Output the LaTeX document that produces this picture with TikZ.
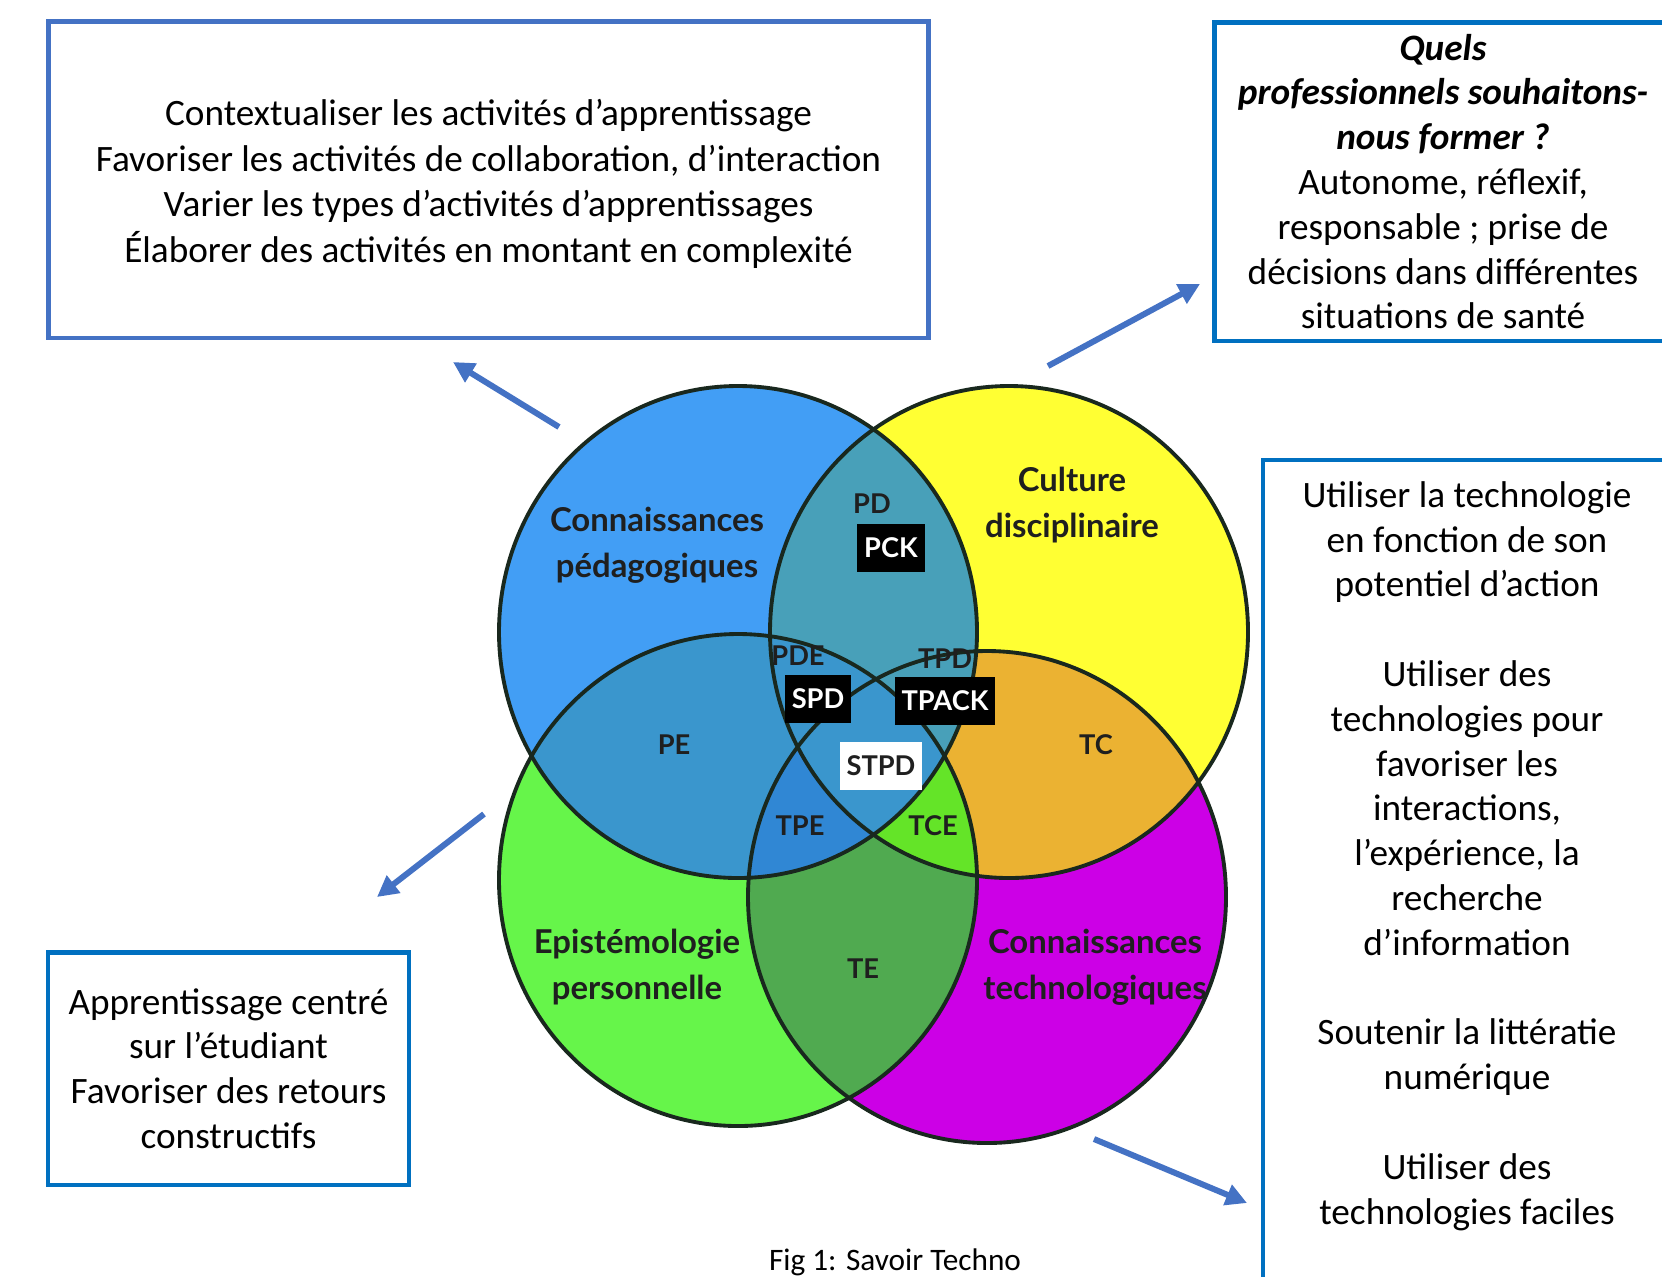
\documentclass[tikz,border=0pt]{standalone}
\usepackage{fontspec}
\setmainfont{Carlito}
\newfontfamily\gill{Lato}
\usetikzlibrary{arrows.meta}

\definecolor{boxblue}{RGB}{0,112,192}
\definecolor{arrowblue}{RGB}{68,114,196}
\definecolor{pedaC}{RGB}{66,158,245}
\definecolor{cultC}{RGB}{255,255,51}
\definecolor{episC}{RGB}{102,245,74}
\definecolor{techC}{RGB}{204,0,230}
\definecolor{pdC}{RGB}{72,160,185}
\definecolor{peC}{RGB}{58,150,205}
\definecolor{tpeC}{RGB}{48,135,212}
\definecolor{tcC}{RGB}{235,178,50}
\definecolor{teC}{RGB}{80,170,80}
\definecolor{tceC}{RGB}{100,228,40}
\definecolor{rimC}{RGB}{25,40,30}

\begin{document}
\begin{tikzpicture}[x=0.02cm, y=-0.02cm]
\tikzstyle{every node} = [align=center, inner sep=0pt, outer sep=0pt, font=\fontsize{21.2}{25.5}\selectfont]
\tikzstyle{venn} = [x radius=239, y radius=246]
\tikzstyle{boxframe} = [draw=boxblue, line width=2.8pt]
\tikzstyle{bigname} = [font=\gill\bfseries\fontsize{18.7}{26}\selectfont, text=black!88]
\tikzstyle{smalltag} = [font=\gill\bfseries\fontsize{15.5}{18}\selectfont, text=black!88]
\tikzstyle{tagbox} = [smalltag, fill=black, text=white, minimum height=27pt, inner xsep=4pt]
\tikzstyle{arrowline} = [draw=arrowblue, line width=3.4pt, -{Triangle[length=12pt,width=12pt]}]
\useasboundingbox (0,0) rectangle (1662,1276);

\coordinate (peda) at (738,632);
\coordinate (cult) at (1009,632);
\coordinate (epis) at (738,880);
\coordinate (tech) at (987,897);

\fill[techC] (tech) ellipse[venn];
\fill[episC] (epis) ellipse[venn];
\fill[cultC] (cult) ellipse[venn];
\begin{scope} \clip (cult) ellipse[venn]; \fill[tcC] (tech) ellipse[venn]; \end{scope}
\begin{scope} \clip (epis) ellipse[venn]; \fill[teC] (tech) ellipse[venn]; \end{scope}
\begin{scope} \clip (cult) ellipse[venn]; \fill[tceC] (epis) ellipse[venn]; \end{scope}
\fill[pedaC] (peda) ellipse[venn];
\begin{scope} \clip (peda) ellipse[venn]; \fill[pdC] (cult) ellipse[venn]; \fill[peC] (epis) ellipse[venn]; \end{scope}
\begin{scope} \clip (peda) ellipse[venn]; \clip (epis) ellipse[venn]; \fill[tpeC] (tech) ellipse[venn]; \end{scope}
\begin{scope} \clip (peda) ellipse[venn]; \clip (epis) ellipse[venn]; \clip (cult) ellipse[venn]; \fill[peC] (tech) ellipse[venn]; \end{scope}
\foreach \c in {peda, cult, epis, tech}
  \draw[rimC, line width=2.2pt] (\c) ellipse[venn];

\node[bigname] (pedaName) at (657,545) {Connaissances\\pédagogiques};
\node[bigname] (cultName) at (1072,505) {Culture\\disciplinaire};
\node[bigname] (episName) at (637,967) {Epistémologie\\personnelle};
\node[bigname] (techName) at (1095,967) {Connaissances\\technologiques};

\node[smalltag] (pd) at (872,504) {PD};
\node[tagbox] (pck) at (891,548) {PCK};
\node[smalltag] (pde) at (798,656) {PDE};
\node[tagbox] (spd) at (818,699) {SPD};
\node[smalltag] (tpd) at (945,659) {TPD};
\node[tagbox] (tpack) at (945,701) {TPACK};
\node[smalltag] (pe) at (674,745) {PE};
\node[smalltag] (tc) at (1096,745) {TC};
\node[tagbox, fill=white, text=black!88] (stpd) at (881,766) {STPD};
\node[smalltag] (tpe) at (800,826) {TPE};
\node[smalltag] (tce) at (933,826) {TCE};
\node[smalltag] (te) at (863,969) {TE};

\node[boxframe, draw=arrowblue, minimum width=17.62cm, minimum height=6.34cm] (pedaBox) at (488.5,179.5) {};
\node[font=\fontsize{21.2}{25.9}\selectfont] (pedaText) at (488.5,184)
  {Contextualiser les activités d’apprentissage\\Favoriser les activités de collaboration, d’interaction\\Varier les types d’activités d’apprentissages\\Élaborer des activités en montant en complexité};
\node[boxframe, minimum width=9.16cm, minimum height=6.38cm] (profBox) at (1443,181.5)
  {\textbf{\textit{Quels}}\\\textbf{\textit{professionnels souhaitons-}}\\\textbf{\textit{nous former ?}}\\Autonome, réflexif,\\responsable ; prise de\\décisions dans différentes\\situations de santé};
\node[boxframe, minimum width=8.16cm, minimum height=17cm, anchor=north west] (techBox) at (1263,460) {};
\node (techText) at (1467,856)
  {Utiliser la technologie\\en fonction de son\\potentiel d’action\\[25.5pt]Utiliser des\\technologies pour\\favoriser les\\interactions,\\l’expérience, la\\recherche\\d’information\\[25.5pt]Soutenir la littératie\\numérique\\[25.5pt]Utiliser des\\technologies faciles};
\node[boxframe, minimum width=7.22cm, minimum height=4.66cm] (episBox) at (228.5,1068.5)
  {Apprentissage centré\\sur l’étudiant\\Favoriser des retours\\constructifs};
\node[font=\fontsize{17.8}{22}\selectfont] (caption) at (895,1262) {Fig 1: Savoir Techno};

\coordinate (pedaFrom) at (559,427); \coordinate (pedaTo) at (453,362);
\coordinate (profFrom) at (1048,366); \coordinate (profTo) at (1200,284);
\coordinate (episFrom) at (484,814); \coordinate (episTo) at (377,897);
\coordinate (techFrom) at (1094,1139); \coordinate (techTo) at (1247,1203);
\foreach \from/\to in {pedaFrom/pedaTo, profFrom/profTo, episFrom/episTo, techFrom/techTo}
\draw[arrowline] (\from) -- (\to);
\end{tikzpicture}
\end{document}
